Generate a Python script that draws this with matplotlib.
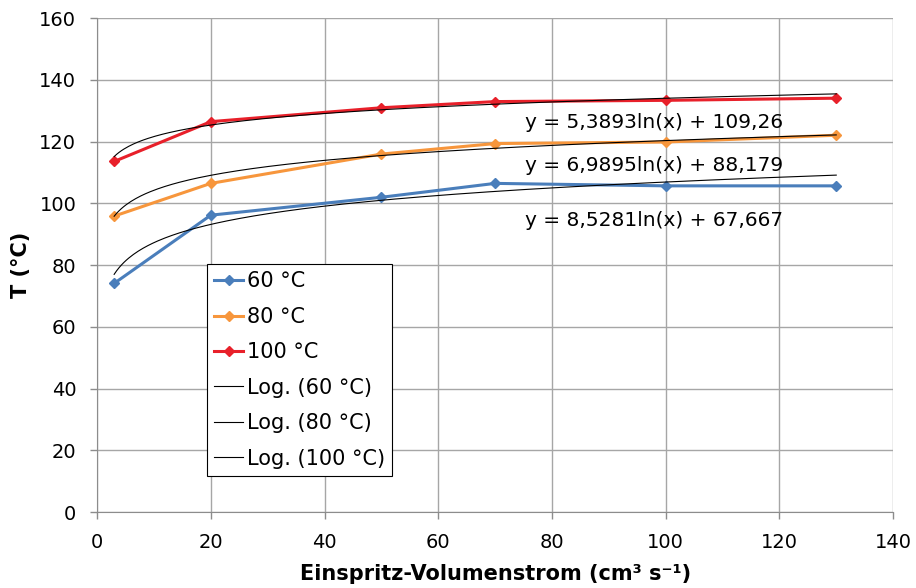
import numpy as np
import matplotlib
matplotlib.use("Agg")
from matplotlib import pyplot as plt

# data
x = [3, 20, 50, 70, 100, 130]
t60 = [74.1, 96.2, 102.0, 106.5, 105.7, 105.7]
t80 = [95.9, 106.5, 116.0, 119.4, 119.9, 122.1]
t100 = [113.6, 126.5, 131.0, 133.0, 133.4, 134.1]

# log trend coefficients as printed on the chart (a*ln(x) + b)
fit60 = (8.5281, 67.667)
fit80 = (6.9895, 88.179)
fit100 = (5.3893, 109.26)
eq_labels = ["y = 5,3893ln(x) + 109,26",
             "y = 6,9895ln(x) + 88,179",
             "y = 8,5281ln(x) + 67,667"]

plt.rcParams['font.family'] = ['DejaVu Sans']
plt.rcParams['font.size'] = 14

fig = plt.figure(figsize=(9.16, 5.88), dpi=100)
ax = fig.add_axes([0.106, 0.129, 0.869, 0.840])

grey = '#8c8c8c'
ax.plot(x, t60, color='#4a7ebb', lw=2.2, marker='D', ms=5.5, label='60 °C', zorder=3)
ax.plot(x, t80, color='#f7963c', lw=2.2, marker='D', ms=5.5, label='80 °C', zorder=3)
ax.plot(x, t100, color='#e8202a', lw=2.2, marker='D', ms=5.5, label='100 °C', zorder=3)

xs = np.linspace(x[0], x[-1], 300)
for (a, b), name in zip([fit60, fit80, fit100], ['60 °C', '80 °C', '100 °C']):
    ax.plot(xs, a * np.log(xs) + b, color='black', lw=0.8,
            label='Log. (%s)' % name, zorder=4)

ax.text(75.3, 126.3, eq_labels[0], va='center', ha='left', fontsize=14.5)
ax.text(75.3, 112.4, eq_labels[1], va='center', ha='left', fontsize=14.5)
ax.text(75.3, 94.6, eq_labels[2], va='center', ha='left', fontsize=14.5)

ax.set_xlim(0, 140)
ax.set_ylim(0, 160)
ax.set_xticks(range(0, 141, 20))
ax.set_yticks(range(0, 161, 20))
ax.grid(True, color='#a6a6a6', lw=1)
ax.set_axisbelow(True)
for s in ['top', 'right']:
    ax.spines[s].set_visible(False)
for s in ['left', 'bottom']:
    ax.spines[s].set_color(grey)
ax.tick_params(color=grey, length=5, width=1, labelsize=14, pad=10)

ax.set_xlabel('Einspritz-Volumenstrom (cm³ s⁻¹)', fontweight='bold', fontsize=15, labelpad=9)
ax.set_ylabel('T (°C)', fontweight='bold', fontsize=15, labelpad=6)

leg = ax.legend(loc='upper left', bbox_to_anchor=(0.138, 0.502), fontsize=15,
                frameon=True, fancybox=False, edgecolor='black', framealpha=1,
                handlelength=1.4, handletextpad=0.15, borderpad=0.35, labelspacing=0.74,
                borderaxespad=0)
leg.get_frame().set_linewidth(0.8)

fig.savefig('out.png', dpi=100)
